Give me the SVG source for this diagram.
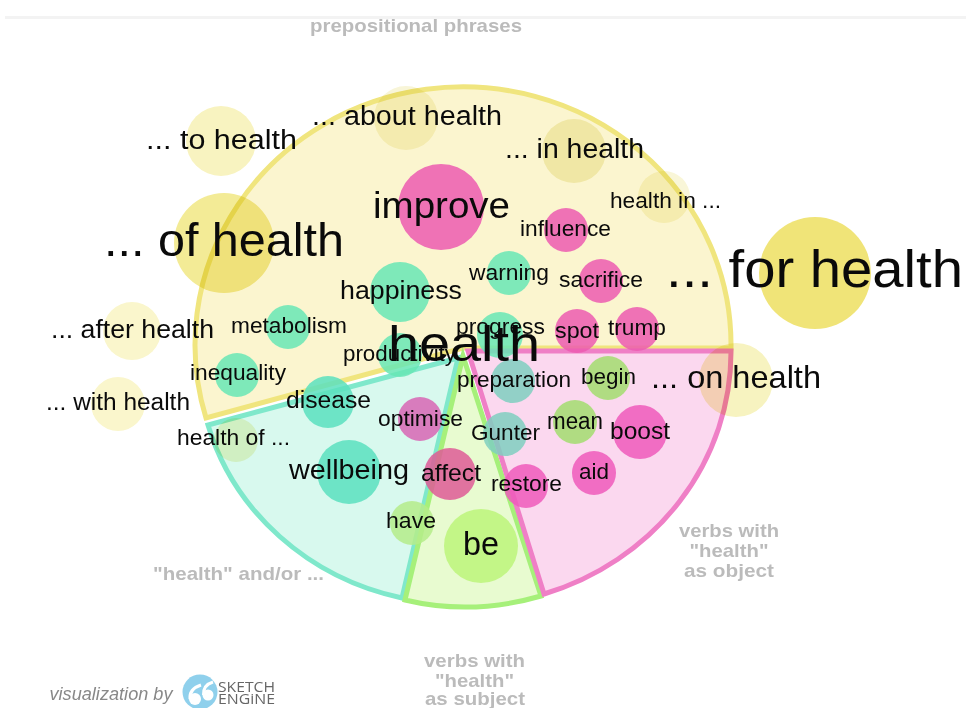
<svg xmlns="http://www.w3.org/2000/svg" width="966" height="708" viewBox="0 0 966 708">
<style>
text{font-family:"Liberation Sans",Arial,sans-serif;text-anchor:middle;fill:#0a0a0a}
.cap{font-weight:bold;fill:#bbb;font-size:19px}
circle{opacity:.85}
.y{mix-blend-mode:multiply;opacity:1}
.p{fill:#ec5bb0}.q{fill:#ee5bbb}.t{fill:#67e6b5}.u{fill:#5be1be}.v{fill:#7fcfbf}.g{fill:#a2dd6f}
.s{stroke-width:5;stroke-linejoin:miter}
</style>
<rect width="966" height="708" fill="#fff"/>
<rect x="5" y="16" width="961" height="3" fill="#f3f3f3"/>
<g id="sectors">
<path class="s" d="M463 348H731A268 258 0 1 0 206 418Z" fill="#fbf5cf" stroke="#f0e57e"/>
<path class="s" d="M458 358L208 425A262 246 0 0 0 402 598Z" fill="#d8f9ee" stroke="#7fe8cb"/>
<path class="s" d="M463 356L405 600Q472 616 541 596Z" fill="#e8fbd0" stroke="#a6f07a"/>
<path class="s" d="M468 351H731A268 254 0 0 1 544 594Z" fill="#fbd8ef" stroke="#ef7fc6"/>
</g>
<g id="connectors"></g>
<g id="n-to"><circle cx="221" cy="141" r="35" class="y" fill="#f8f3c0"/><text x="221.5" y="149" font-size="27" textLength="151" lengthAdjust="spacingAndGlyphs">... to health</text></g>
<g id="n-about"><circle cx="406" cy="118" r="32" class="y" fill="#f8f5d8"/><text x="407" y="125" font-size="27" textLength="190" lengthAdjust="spacingAndGlyphs">... about health</text></g>
<g id="n-in"><circle cx="574" cy="151" r="32" class="y" fill="#f4f1cc"/><text x="574.5" y="158" font-size="27" textLength="139" lengthAdjust="spacingAndGlyphs">... in health</text></g>
<g id="n-healthin"><circle cx="664" cy="197" r="26" class="y" fill="#f9f6d8"/><text x="665.5" y="208" font-size="22" textLength="111" lengthAdjust="spacingAndGlyphs">health in ...</text></g>
<g id="n-of"><circle cx="224" cy="243" r="50" class="y" fill="#f3eb96"/><text x="224" y="256" font-size="47" textLength="240" lengthAdjust="spacingAndGlyphs">... of health</text></g>
<g id="n-for"><circle cx="815" cy="273" r="56" class="y" fill="#f0e478"/><text x="814.5" y="287" font-size="51" textLength="297" lengthAdjust="spacingAndGlyphs">... for health</text></g>
<g id="n-after"><circle cx="132" cy="331" r="29" class="y" fill="#faf6cc"/><text x="132.5" y="338" font-size="25" textLength="163" lengthAdjust="spacingAndGlyphs">... after health</text></g>
<g id="n-with"><circle cx="118" cy="404" r="27" class="y" fill="#faf6cc"/><text x="118" y="410" font-size="23" textLength="144" lengthAdjust="spacingAndGlyphs">... with health</text></g>
<g id="n-on"><circle cx="736" cy="380" r="37" class="y" fill="#f7f3c0"/><text x="736" y="388" font-size="32" textLength="170" lengthAdjust="spacingAndGlyphs">... on health</text></g>
<g id="n-healthof"><circle cx="236" cy="440" r="22" class="y" fill="#f6f5d0"/><text x="233.5" y="445" font-size="22" textLength="113" lengthAdjust="spacingAndGlyphs">health of ...</text></g>
<g id="n-improve"><circle cx="441" cy="207" r="43" class="p"/><text x="441.5" y="218" font-size="36" textLength="137" lengthAdjust="spacingAndGlyphs">improve</text></g>
<g id="n-influence"><circle cx="566" cy="230" r="22" class="p"/><text x="565.5" y="236" font-size="22" textLength="91" lengthAdjust="spacingAndGlyphs">influence</text></g>
<g id="n-sacrifice"><circle cx="601" cy="281" r="22" class="p"/><text x="601" y="287" font-size="22" textLength="84" lengthAdjust="spacingAndGlyphs">sacrifice</text></g>
<g id="n-spot"><circle cx="577" cy="331" r="22" class="p"/><text x="577" y="338" font-size="22" textLength="44" lengthAdjust="spacingAndGlyphs">spot</text></g>
<g id="n-trump"><circle cx="637" cy="329" r="22" class="p"/><text x="637" y="335" font-size="22" textLength="58" lengthAdjust="spacingAndGlyphs">trump</text></g>
<g id="n-warning"><circle cx="509" cy="273" r="22" class="t"/><text x="509" y="280" font-size="22" textLength="80" lengthAdjust="spacingAndGlyphs">warning</text></g>
<g id="n-happiness"><circle cx="400" cy="292" r="30" class="t"/><text x="401" y="299" font-size="25" textLength="122" lengthAdjust="spacingAndGlyphs">happiness</text></g>
<g id="n-progress"><circle cx="500" cy="335" r="23" class="t"/><text x="500.5" y="334" font-size="22" textLength="89" lengthAdjust="spacingAndGlyphs">progress</text></g>
<g id="n-metabolism"><circle cx="288" cy="327" r="22" class="t"/><text x="289" y="333" font-size="22" textLength="116" lengthAdjust="spacingAndGlyphs">metabolism</text></g>
<g id="n-productivity"><circle cx="400" cy="355" r="22" class="t"/><text x="399.5" y="361" font-size="22" textLength="113" lengthAdjust="spacingAndGlyphs">productivity</text></g>
<g id="n-inequality"><circle cx="237" cy="375" r="22" class="t"/><text x="238" y="380" font-size="22" textLength="96" lengthAdjust="spacingAndGlyphs">inequality</text></g>
<g id="n-disease"><circle cx="328" cy="402" r="26" class="u"/><text x="328.5" y="408" font-size="23" textLength="85" lengthAdjust="spacingAndGlyphs">disease</text></g>
<g id="n-preparation"><circle cx="513" cy="381" r="22" class="v"/><text x="514" y="387" font-size="22" textLength="114" lengthAdjust="spacingAndGlyphs">preparation</text></g>
<g id="n-begin"><circle cx="608" cy="378" r="22" class="g"/><text x="608.5" y="384" font-size="22" textLength="55" lengthAdjust="spacingAndGlyphs">begin</text></g>
<g id="n-boost"><circle cx="640" cy="432" r="27" class="q"/><text x="640" y="439" font-size="24" textLength="60" lengthAdjust="spacingAndGlyphs">boost</text></g>
<g id="n-mean"><circle cx="575" cy="422" r="22" class="g"/><text x="575" y="429" font-size="23" textLength="56" lengthAdjust="spacingAndGlyphs">mean</text></g>
<g id="n-optimise"><circle cx="420" cy="419" r="22" fill="#d866b4"/><text x="420.5" y="426" font-size="22" textLength="85" lengthAdjust="spacingAndGlyphs">optimise</text></g>
<g id="n-gunter"><circle cx="505" cy="434" r="22" class="v"/><text x="505.5" y="440" font-size="22" textLength="69" lengthAdjust="spacingAndGlyphs">Gunter</text></g>
<g id="n-wellbeing"><circle cx="349" cy="472" r="32" class="u"/><text x="349" y="479" font-size="27" textLength="120" lengthAdjust="spacingAndGlyphs">wellbeing</text></g>
<g id="n-affect"><circle cx="450" cy="474" r="26" fill="#de5a96"/><text x="451" y="481" font-size="24" textLength="60" lengthAdjust="spacingAndGlyphs">affect</text></g>
<g id="n-restore"><circle cx="526" cy="486" r="22" class="q"/><text x="526.5" y="491" font-size="22" textLength="71" lengthAdjust="spacingAndGlyphs">restore</text></g>
<g id="n-aid"><circle cx="594" cy="473" r="22" class="q"/><text x="594" y="479" font-size="22" textLength="30" lengthAdjust="spacingAndGlyphs">aid</text></g>
<g id="n-have"><circle cx="412" cy="523" r="22" fill="#b5ec8a"/><text x="411" y="528" font-size="22" textLength="50" lengthAdjust="spacingAndGlyphs">have</text></g>
<g id="n-be"><circle cx="481" cy="546" r="37" fill="#bcf47a"/><text x="481" y="555" font-size="33" textLength="36" lengthAdjust="spacingAndGlyphs">be</text></g>
<g id="n-health"><text x="464" y="361" font-size="50" textLength="152" lengthAdjust="spacingAndGlyphs">health</text></g>
<g id="labels">
<text class="cap" x="416" y="32" textLength="212" lengthAdjust="spacingAndGlyphs">prepositional phrases</text>
<text class="cap" x="238.5" y="580" textLength="171" lengthAdjust="spacingAndGlyphs">"health" and/or ...</text>
<text class="cap" x="729" y="537" textLength="100" lengthAdjust="spacingAndGlyphs">verbs with</text><text class="cap" x="729" y="557" textLength="79" lengthAdjust="spacingAndGlyphs">"health"</text><text class="cap" x="729" y="577" textLength="90" lengthAdjust="spacingAndGlyphs">as object</text>
<text class="cap" x="474.5" y="667" textLength="101" lengthAdjust="spacingAndGlyphs">verbs with</text><text class="cap" x="474.5" y="687" textLength="79" lengthAdjust="spacingAndGlyphs">"health"</text><text class="cap" x="475" y="705" textLength="100" lengthAdjust="spacingAndGlyphs">as subject</text>
</g>
<g id="logo">
<text x="111" y="700" font-size="18" font-style="italic" textLength="123" lengthAdjust="spacingAndGlyphs" style="fill:#888">visualization by</text>
<circle cx="200" cy="692" r="17.5" fill="#8fd0ec" style="opacity:1"/>
<circle cx="195" cy="699" r="6" fill="#fff" style="opacity:1"/><circle cx="208" cy="695" r="5.500" fill="#fff" style="opacity:1"/>
<path d="M190 699Q189 689 201 685M203.500 695Q203 685 213 682" fill="none" stroke="#fff" stroke-width="3"/>
<text x="246.500" y="692" font-size="15" textLength="57" lengthAdjust="spacingAndGlyphs" style="font-family:'Open Sans',sans-serif;fill:#666">SKETCH</text>
<text x="246.500" y="704" font-size="15" textLength="57" lengthAdjust="spacingAndGlyphs" style="font-family:'Open Sans',sans-serif;fill:#666">ENGiNE</text>
</g>
</svg>
